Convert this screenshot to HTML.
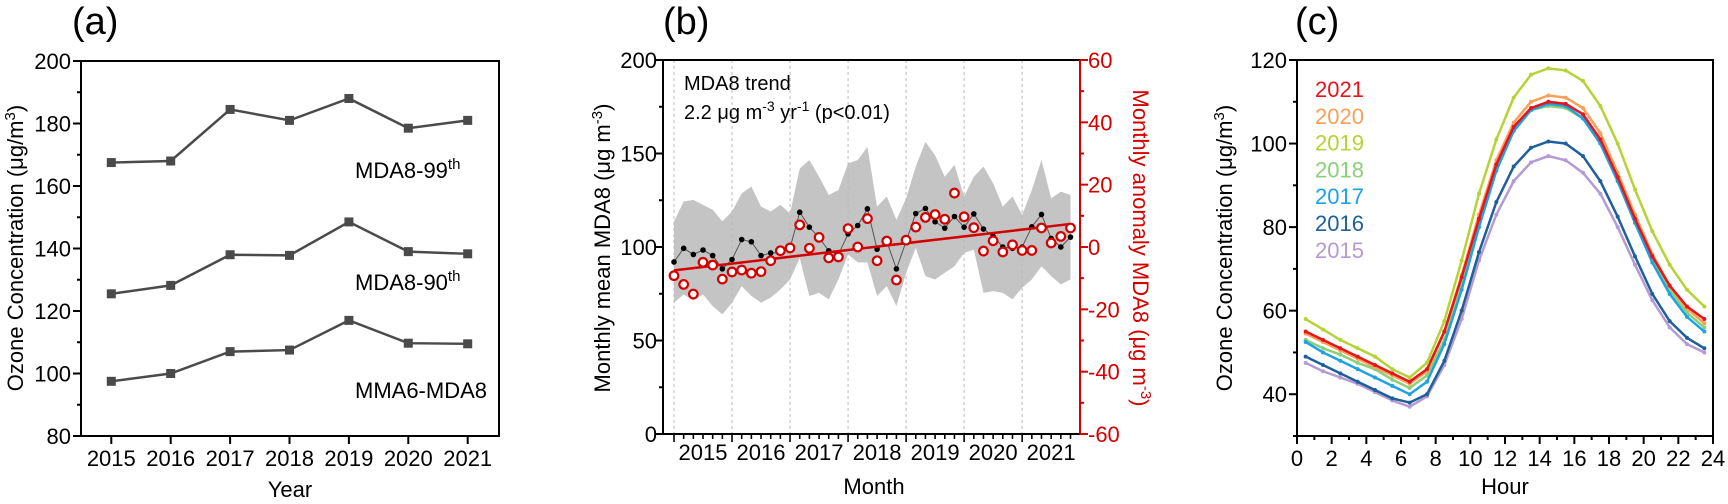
<!DOCTYPE html>
<html><head><meta charset="utf-8"><style>
html,body{margin:0;padding:0;background:#fff;}
svg{display:block;font-family:"Liberation Sans",Arial,sans-serif;}
</style></head><body>
<svg id="fig" width="1728" height="504" viewBox="0 0 1728 504" xmlns="http://www.w3.org/2000/svg">
<text x="72" y="34" font-size="38">(a)</text>
<text x="663" y="34" font-size="38">(b)</text>
<text x="1295" y="34" font-size="38">(c)</text>
<text transform="translate(23,248) rotate(-90)" text-anchor="middle" font-size="22">Ozone Concentration (μg/m<tspan dy="-8" font-size="15">3</tspan><tspan dy="8">)</tspan></text>
<text x="290" y="497" text-anchor="middle" font-size="22">Year</text>
<text x="355" y="178" font-size="22">MDA8-99<tspan dy="-9" font-size="15">th</tspan></text>
<text x="355" y="290" font-size="22">MDA8-90<tspan dy="-9" font-size="15">th</tspan></text>
<text x="355" y="398" font-size="22">MMA6-MDA8</text>
<text transform="translate(610,248) rotate(-90)" text-anchor="middle" font-size="22">Monthly mean MDA8 (μg m<tspan dy="-8" font-size="15">-3</tspan><tspan dy="8">)</tspan></text>
<text transform="translate(1133,248) rotate(90)" text-anchor="middle" font-size="22" fill="#d40000">Monthly anomaly MDA8 (μg m<tspan dy="-8" font-size="15">-3</tspan><tspan dy="8">)</tspan></text>
<text x="874" y="494" text-anchor="middle" font-size="22">Month</text>
<text x="684" y="90" font-size="20">MDA8 trend</text>
<text x="684" y="119" font-size="20">2.2 μg m<tspan dy="-8" font-size="14">-3</tspan><tspan dy="8"> yr</tspan><tspan dy="-8" font-size="14">-1</tspan><tspan dy="8"> (p&lt;0.01)</tspan></text>
<text transform="translate(1232,248) rotate(-90)" text-anchor="middle" font-size="22">Ozone Concentration (μg/m<tspan dy="-8" font-size="15">3</tspan><tspan dy="8">)</tspan></text>
<text x="1505" y="494" text-anchor="middle" font-size="22">Hour</text>
<g id="ga"></g><g id="gb"></g><g id="gc"></g>
</svg>
<script>
// ---- Panel A data
const aYears = [2015,2016,2017,2018,2019,2020,2021];
const a99 = [167.5,168,184.5,181,188,178.5,181];
const a90 = [125.5,128.2,138,137.8,148.5,139,138.3];
const aMMA = [97.5,100,107,107.5,117,109.7,109.5];
const aYTicks = [80,100,120,140,160,180,200];
// ---- Panel B data
const bYearLabels = ["2015","2016","2017","2018","2019","2020","2021"];
const bMean = [92,99.3,96,98.4,95.4,88.3,93.3,104,102.8,95.4,96.8,97,99.5,118.6,110.6,105,98,96,107,111.5,120.4,98.8,103,88.3,103,117.9,120.6,113.5,110.1,116.3,110.6,117.7,109.6,105.7,100,99.3,100,110.8,117.4,104.6,100,105.3];
const bAnom = [-9.2,-12,-15.1,-4.9,-5.8,-10.3,-8,-7.4,-8.4,-7.9,-4.4,-1.2,-0.3,7.1,-0.4,3.1,-3.5,-3.2,5.9,0,9.1,-4.4,1.9,-10.6,2.2,6.4,9.5,10.4,8.9,17.3,9.7,6.2,-1.3,2,-1.6,0.7,-1.1,-1.1,6.1,1.3,3.4,6.1];
const bUpper = [113.7,124.3,125.2,122.5,119.9,113.7,119,128.7,132.3,121.6,119,122.5,118,142,146.5,137.6,127.8,130.5,144.7,146.5,153.5,121.6,127,114.5,126,143,156.2,149,137.6,143.9,127,137.6,143,134,121.6,127,117.2,130.5,146.5,126,129.6,127.8];
const bLower = [70.2,74.6,71.5,74.6,68.4,64,70.2,79.1,73.8,70.2,72.9,77.3,82.6,94.1,73.8,75.5,72,82.6,96,91.8,91.8,73.8,79.1,68.4,86.2,99.5,84.4,82.6,86.2,89.7,96.8,98.6,75.5,76.4,75.5,72,78.2,82.6,89.7,84.4,80,82.6];
const bTrend = [-7.5,7.4];
const bLeftTicks = [0,50,100,150,200];
const bRightTicks = [-60,-40,-20,0,20,40,60];
// ---- Panel C data
const cHours = [0.5,1.5,2.5,3.5,4.5,5.5,6.5,7.5,8.5,9.5,10.5,11.5,12.5,13.5,14.5,15.5,16.5,17.5,18.5,19.5,20.5,21.5,22.5,23.5];
const cYears = ["2015","2016","2017","2018","2019","2020","2021"];
const c2015 = [47.5,45.5,44,42.5,40.5,38.5,37,39.5,47,58,72,83,91,95.5,97,96,93,88,80,71,62.5,56,52,50];
const c2016 = [49,47,45,43,41,39,38,40,48,60,74,86,94.5,99,100.5,100,97,91,82.5,73,64,57.5,53.5,51];
const c2017 = [52.5,50,48,46,44,42,40,43,52,65,80,93.5,103,108,109.5,109,106,100,91,81,71.5,64,58.5,55];
const c2018 = [53,51,49.5,47.5,46,43.5,41.5,44.5,53,66,81,94,103,108,109,108.5,106,100,91,81,72,65,59.5,56];
const c2019 = [58,55.5,53,51,49,46,44,47.5,57.5,72,88,101,111,116.5,118,117.5,115,109,100,89,79,71,65,61];
const c2020 = [54.5,52.5,50.5,48.5,46.5,44.5,42.5,45.5,55,68.5,83,96,105,110,111.5,111,108.5,102.5,93,83,73.5,66,60.5,57];
const c2021 = [55,53,51,49,47,45,43,46,55,68,82,95,104,108.5,110,109.5,107,101,92,82,73,66,61,58];
const cYTicks = [40,60,80,100,120];
const cXTicks = [0,2,4,6,8,10,12,14,16,18,20,22,24];

const NS="http://www.w3.org/2000/svg";
function mk(parent,tag,attrs){const e=document.createElementNS(NS,tag);for(const k in attrs)e.setAttribute(k,attrs[k]);parent.appendChild(e);return e;}
function lin(d0,d1,r0,r1){return v=>r0+(v-d0)*(r1-r0)/(d1-d0);}

// ===== Panel A
(function(){
const g=document.getElementById('ga');
const X=lin(2015,2021,111.3,467.7), Y=lin(80,200,436,61);
let e=mk(g,'rect',{x:81,y:61,width:418,height:375,fill:'none',stroke:'#000','stroke-width':2});

for(let v=80;v<=200;v+=10){const major=aYTicks.includes(v);
 e=mk(g,'line',{x1:81,x2:major?73:77,y1:Y(v),y2:Y(v),stroke:'#000','stroke-width':2});
 }
aYTicks.forEach(v=>{e=mk(g,'text',{x:71,y:Y(v)+8,'text-anchor':'end','font-size':22});e.textContent=v;
 });
aYears.forEach(v=>{e=mk(g,'line',{x1:X(v),x2:X(v),y1:436,y2:444,stroke:'#000','stroke-width':2});
 
 e=mk(g,'text',{x:X(v),y:466,'text-anchor':'middle','font-size':22});e.textContent=v;
 });
[[a99,'series-mda8-99th'],[a90,'series-mda8-90th'],[aMMA,'series-mma6-mda8']].forEach(([s,n])=>{
 e=mk(g,'polyline',{points:s.map((v,i)=>X(aYears[i])+','+Y(v)).join(' '),fill:'none',stroke:'#4a4a4a','stroke-width':2.5});
 
 s.forEach((v,i)=>{e=mk(g,'rect',{x:X(aYears[i])-4.5,y:Y(v)-4.5,width:9,height:9,fill:'#4a4a4a'});
  });
});
})();

// ===== Panel B
(function(){
const g=document.getElementById('gb');
const X=lin(0,41,674,1070.5), Y=lin(0,200,434,60), YR=lin(-60,60,434,60);
const L=663,R=1080,T=60,B=434;
let e;
// band
const pts=bUpper.map((v,i)=>X(i)+','+Y(v)).concat(bLower.map((v,i)=>[X(i),Y(v)]).reverse().map(p=>p[0]+','+p[1]));
e=mk(g,'polygon',{points:pts.join(' '),fill:'#c4c4c4'});

// year dotted lines
for(let k=0;k<7;k++){e=mk(g,'line',{x1:X(6*k),x2:X(6*k),y1:T,y2:B,stroke:'#bbb','stroke-width':1,'stroke-dasharray':'3,3'});
 }
// mean line
e=mk(g,'polyline',{points:bMean.map((v,i)=>X(i)+','+Y(v)).join(' '),fill:'none',stroke:'#555','stroke-width':1});

bMean.forEach((v,i)=>{e=mk(g,'circle',{cx:X(i),cy:Y(v),r:2.8,fill:'#000'});
 });
// trend
e=mk(g,'line',{x1:X(0),y1:YR(bTrend[0]),x2:X(41),y2:YR(bTrend[1]),stroke:'#d40000','stroke-width':2.5});

bAnom.forEach((v,i)=>{e=mk(g,'circle',{cx:X(i),cy:YR(v),r:4.3,fill:'#fff',stroke:'#d40000','stroke-width':2.2});
 });
// axes
e=mk(g,'path',{d:`M${L},${T}H${R}M${L},${T}V${B}H${R}`,fill:'none',stroke:'#000','stroke-width':2});

e=mk(g,'line',{x1:R,x2:R,y1:T,y2:B,stroke:'#d40000','stroke-width':2});

for(let v=0;v<=200;v+=25){const major=bLeftTicks.includes(v);
 e=mk(g,'line',{x1:L,x2:major?L-8:L-4,y1:Y(v),y2:Y(v),stroke:'#000','stroke-width':2});
 }
bLeftTicks.forEach(v=>{e=mk(g,'text',{x:657,y:Y(v)+8,'text-anchor':'end','font-size':22});e.textContent=v;
 });
for(let v=-60;v<=60;v+=10){const major=bRightTicks.includes(v);
 e=mk(g,'line',{x1:R,x2:major?R+8:R+4,y1:YR(v),y2:YR(v),stroke:'#d40000','stroke-width':2});
 }
bRightTicks.forEach(v=>{e=mk(g,'text',{x:1088,y:YR(v)+8,'font-size':22,fill:'#d40000'});e.textContent=v;
 });
for(let i=0;i<42;i++){const major=i%6===0;
 e=mk(g,'line',{x1:X(i),x2:X(i),y1:B,y2:major?B+8:B+5,stroke:'#000','stroke-width':1.6});
 }
bYearLabels.forEach((t,k)=>{e=mk(g,'text',{x:X(6*k+3),y:460,'text-anchor':'middle','font-size':22});e.textContent=t;
 });
})();

// ===== Panel C
(function(){
const g=document.getElementById('gc');
const X=lin(0,24,1297,1713), Y=lin(30,120,436,60);
const colors={"2015":"#b49bd3","2016":"#1f5f9a","2017":"#1ea3e2","2018":"#8ccf7a","2019":"#b5d334","2020":"#f7a05a","2021":"#e8141c"};
const series={"2015":c2015,"2016":c2016,"2017":c2017,"2018":c2018,"2019":c2019,"2020":c2020,"2021":c2021};
let e=mk(g,'rect',{x:1297,y:60,width:416,height:376,fill:'none',stroke:'#000','stroke-width':2});

["2015","2016","2018","2017","2020","2021","2019"].forEach(yr=>{const s=series[yr];
 e=mk(g,'polyline',{points:s.map((v,i)=>X(cHours[i])+','+Y(v)).join(' '),fill:'none',stroke:colors[yr],'stroke-width':2.5});
 
 s.forEach((v,i)=>{e=mk(g,'circle',{cx:X(cHours[i]),cy:Y(v),r:2,fill:colors[yr]});
  });
});
for(let v=30;v<=120;v+=10){const major=cYTicks.includes(v);
 e=mk(g,'line',{x1:1297,x2:major?1289:1293,y1:Y(v),y2:Y(v),stroke:'#000','stroke-width':2});
 }
cYTicks.forEach(v=>{e=mk(g,'text',{x:1287,y:Y(v)+8,'text-anchor':'end','font-size':22});e.textContent=v;
 });
for(let h=0;h<=24;h++){const major=h%2===0;
 e=mk(g,'line',{x1:X(h),x2:X(h),y1:436,y2:major?444:440,stroke:'#000','stroke-width':2});
 }
cXTicks.forEach(h=>{e=mk(g,'text',{x:X(h),y:466,'text-anchor':'middle','font-size':22});e.textContent=h;
 });
const legendOrder=["2021","2020","2019","2018","2017","2016","2015"];
legendOrder.forEach((yr,k)=>{e=mk(g,'text',{x:1315,y:97+k*26.8,'font-size':22,fill:colors[yr]});e.textContent=yr;
 });
})();
</script>
</body></html>
